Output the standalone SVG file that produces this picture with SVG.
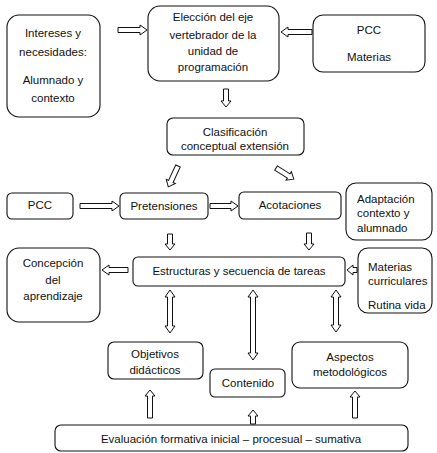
<svg xmlns="http://www.w3.org/2000/svg" width="437" height="453" viewBox="0 0 437 453">
<style>
.box{fill:#fff;stroke:#111;stroke-width:1.1}
.arr{fill:#fff;stroke:#111;stroke-width:1}
text{font-family:"Liberation Sans",Arial,sans-serif;font-size:11.5px;fill:#111}
.c{text-anchor:middle}
</style>
<rect width="437" height="453" fill="#fff"/>
<g id="n-intereses"><rect class="box" x="7" y="15" width="93" height="102" rx="12"/>
<text class="c" x="53" y="37">Intereses y</text><text class="c" x="53" y="56">necesidades:</text>
<text class="c" x="53" y="84">Alumnado y</text><text class="c" x="53" y="102">contexto</text></g>
<g id="n-eleccion"><rect class="box" x="148" y="6" width="131" height="75" rx="12"/>
<text class="c" x="213" y="21">Elección del eje</text><text class="c" x="213" y="39">vertebrador de la</text>
<text class="c" x="213" y="55">unidad de</text><text class="c" x="213" y="71">programación</text></g>
<g id="n-pcc1"><rect class="box" x="313" y="15" width="112" height="57" rx="10"/>
<text class="c" x="369" y="34">PCC</text><text class="c" x="369" y="61">Materias</text></g>
<g id="n-clasif"><rect class="box" x="167" y="118" width="137" height="37" rx="6"/>
<text class="c" x="235" y="136">Clasificación</text><text class="c" x="235" y="150">conceptual extensión</text></g>
<g id="n-pcc2"><rect class="box" x="7" y="193" width="66" height="26" rx="5"/>
<text class="c" x="40" y="209">PCC</text></g>
<g id="n-pret"><rect class="box" x="120" y="193" width="88" height="26" rx="5"/>
<text class="c" x="164" y="210">Pretensiones</text></g>
<g id="n-acot"><rect class="box" x="239" y="192" width="102" height="27" rx="5"/>
<text class="c" x="290" y="209">Acotaciones</text></g>
<g id="n-adapt"><rect class="box" x="346" y="183" width="86" height="57" rx="10"/>
<text x="357" y="203">Adaptación</text><text x="357" y="217">contexto y</text><text x="357" y="232">alumnado</text></g>
<g id="n-estr"><rect class="box" x="133" y="257" width="212" height="29" rx="5"/>
<text class="c" x="239" y="275">Estructuras y secuencia de tareas</text></g>
<g id="n-concep"><rect class="box" x="7" y="248" width="93" height="74" rx="12"/>
<text class="c" x="53" y="267">Concepción</text><text class="c" x="53" y="284">del</text><text class="c" x="53" y="300">aprendizaje</text></g>
<g id="n-materias"><rect class="box" x="358" y="248" width="74" height="65" rx="10"/>
<text x="368" y="271">Materias</text><text x="368" y="285">curriculares</text><text x="368" y="309">Rutina vida</text></g>
<g id="n-obj"><rect class="box" x="108" y="342" width="95" height="37" rx="6"/>
<text class="c" x="155" y="358">Objetivos</text><text class="c" x="155" y="374">didácticos</text></g>
<g id="n-cont"><rect class="box" x="210" y="369" width="75" height="28" rx="5"/>
<text class="c" x="248" y="387">Contenido</text></g>
<g id="n-asp"><rect class="box" x="292" y="342" width="116" height="46" rx="8"/>
<text class="c" x="350" y="361">Aspectos</text><text class="c" x="350" y="376">metodológicos</text></g>
<g id="n-eval"><rect class="box" x="55" y="425" width="353" height="26" rx="6"/>
<text class="c" x="231" y="443">Evaluación formativa inicial – procesual – sumativa</text></g>
<g id="connectors">
<path class="arr" d="M118 27.5 H140 V25 L147 30 L140 35 V32.5 H118 Z"/>
<path class="arr" d="M312 29.5 H288 V27 L281 32 L288 37 V34.5 H312 Z"/>
<path class="arr" d="M223.5 89 V101 H221 L226 107 L231 101 H228.5 V89 Z"/>
<path class="arr" transform="translate(178,166) rotate(25)" d="M-2.5 0 V17 H-5 L0 23 L5 17 H2.5 V0 Z"/>
<path class="arr" transform="translate(276,168) rotate(-58)" d="M-2.5 0 V15 H-5 L0 21 L5 15 H2.5 V0 Z"/>
<path class="arr" d="M80 203.5 H112 V201 L119 206 L112 211 V208.5 H80 Z"/>
<path class="arr" d="M210 203.5 H231 V201 L238 206 L231 211 V208.5 H210 Z"/>
<path class="arr" d="M167.5 234 V244 H165 L170 250 L175 244 H172.5 V234 Z"/>
<path class="arr" d="M306.5 233 V244 H304 L309 250 L314 244 H311.5 V233 Z"/>
<path class="arr" d="M128 267.5 H109 V265 L102 270 L109 275 V272.5 H128 Z"/>
<path class="arr" d="M357 267.5 H353 V265 L347 270 L353 275 V272.5 H357 Z"/>
<path class="arr" d="M170 290 L175 297 H172.5 V326 H175 L170 333 L165 326 H167.5 V297 H165 Z"/>
<path class="arr" d="M253 290 L258 297 H255.5 V353 H258 L253 360 L248 353 H250.5 V297 H248 Z"/>
<path class="arr" d="M336 290 L341 297 H338.5 V325 H341 L336 332 L331 325 H333.5 V297 H331 Z"/>
<path class="arr" d="M147.5 418 V396 H145 L150 390 L155 396 H152.5 V418 Z"/>
<path class="arr" d="M250.5 424 V416 H248 L253 410 L258 416 H255.5 V424 Z"/>
<path class="arr" d="M352.5 418 V397 H350 L355 391 L360 397 H357.5 V418 Z"/>
</g>
</svg>
